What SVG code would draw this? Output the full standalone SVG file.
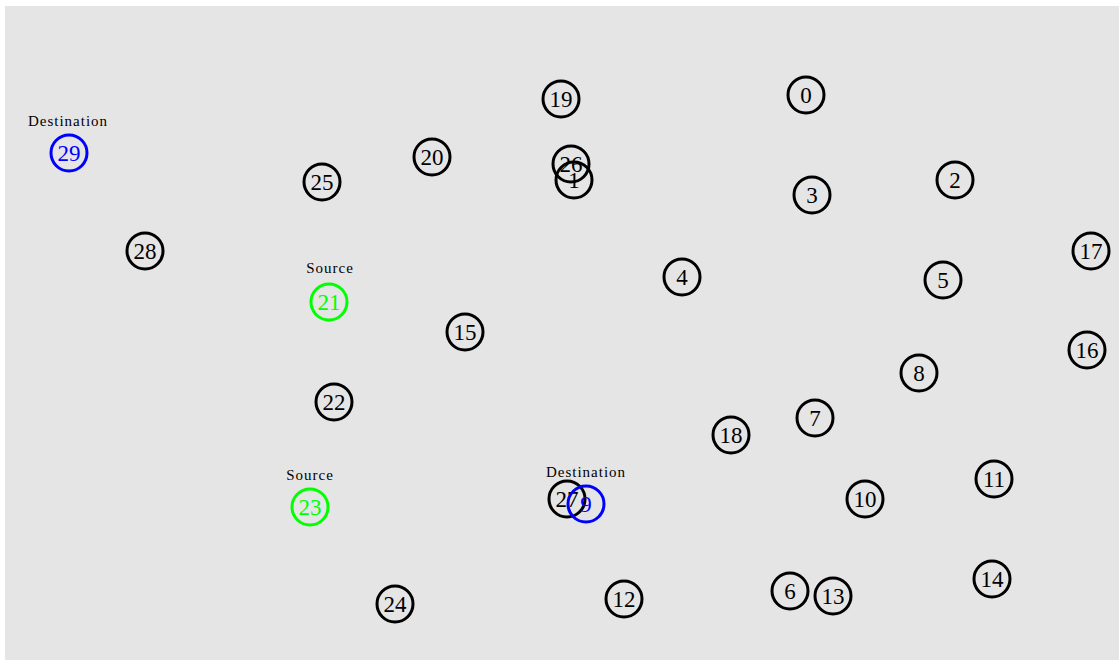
<svg xmlns="http://www.w3.org/2000/svg" width="1119" height="660" viewBox="0 0 1119 660">
<style>
.n circle{fill:none;stroke:#000;stroke-width:3}
.n text{font-family:"Liberation Serif",serif;font-size:23px;text-anchor:middle;fill:#000}
.n.dst circle{stroke:#0000ff}
.n.dst text{fill:#0000ff}
.n.src circle{stroke:#00ff00}
.n.src text{fill:#00ff00}
.n text.lbl{font-family:"Liberation Serif",serif;font-size:15px;letter-spacing:1px;text-anchor:middle;fill:#000}
</style>
<rect x="5" y="6" width="1114" height="654" fill="#e5e5e5"/>
<g id="connectors"></g>
<g id="n0" class="n"><circle cx="806" cy="95" r="18"/><text x="806" y="103">0</text></g>
<g id="n19" class="n"><circle cx="561" cy="99" r="18"/><text x="561" y="107">19</text></g>
<g id="n20" class="n"><circle cx="432" cy="157" r="18"/><text x="432" y="165">20</text></g>
<g id="n26" class="n"><circle cx="571" cy="164" r="18"/><text x="571" y="172">26</text></g>
<g id="n1" class="n"><circle cx="574" cy="180" r="18"/><text x="574" y="188">1</text></g>
<g id="n25" class="n"><circle cx="322" cy="182" r="18"/><text x="322" y="190">25</text></g>
<g id="n3" class="n"><circle cx="812" cy="195" r="18"/><text x="812" y="203">3</text></g>
<g id="n2" class="n"><circle cx="955" cy="180" r="18"/><text x="955" y="188">2</text></g>
<g id="n28" class="n"><circle cx="145" cy="251" r="18"/><text x="145" y="259">28</text></g>
<g id="n17" class="n"><circle cx="1091" cy="251" r="18"/><text x="1091" y="259">17</text></g>
<g id="n4" class="n"><circle cx="682" cy="277" r="18"/><text x="682" y="285">4</text></g>
<g id="n5" class="n"><circle cx="943" cy="280" r="18"/><text x="943" y="288">5</text></g>
<g id="n15" class="n"><circle cx="465" cy="332" r="18"/><text x="465" y="340">15</text></g>
<g id="n16" class="n"><circle cx="1087" cy="350" r="18"/><text x="1087" y="358">16</text></g>
<g id="n8" class="n"><circle cx="919" cy="373" r="18"/><text x="919" y="381">8</text></g>
<g id="n22" class="n"><circle cx="334" cy="402" r="18"/><text x="334" y="410">22</text></g>
<g id="n7" class="n"><circle cx="815" cy="418" r="18"/><text x="815" y="426">7</text></g>
<g id="n18" class="n"><circle cx="731" cy="435" r="18"/><text x="731" y="443">18</text></g>
<g id="n11" class="n"><circle cx="994" cy="479" r="18"/><text x="994" y="487">11</text></g>
<g id="n10" class="n"><circle cx="865" cy="499" r="18"/><text x="865" y="507">10</text></g>
<g id="n27" class="n"><circle cx="567" cy="499" r="18"/><text x="567" y="507">27</text></g>
<g id="n24" class="n"><circle cx="395" cy="604" r="18"/><text x="395" y="612">24</text></g>
<g id="n12" class="n"><circle cx="624" cy="599" r="18"/><text x="624" y="607">12</text></g>
<g id="n6" class="n"><circle cx="790" cy="591" r="18"/><text x="790" y="599">6</text></g>
<g id="n13" class="n"><circle cx="833" cy="596" r="18"/><text x="833" y="604">13</text></g>
<g id="n14" class="n"><circle cx="992" cy="579" r="18"/><text x="992" y="587">14</text></g>
<g id="n29" class="n dst"><circle cx="69" cy="153" r="18"/><text x="69" y="161">29</text><text class="lbl" x="68" y="126">Destination</text></g>
<g id="n9" class="n dst"><circle cx="586" cy="504" r="18"/><text x="586" y="512">9</text><text class="lbl" x="586" y="477">Destination</text></g>
<g id="n21" class="n src"><circle cx="329" cy="302" r="18"/><text x="329" y="310">21</text><text class="lbl" x="330" y="273">Source</text></g>
<g id="n23" class="n src"><circle cx="310" cy="507" r="18"/><text x="310" y="515">23</text><text class="lbl" x="310" y="480">Source</text></g>
</svg>
